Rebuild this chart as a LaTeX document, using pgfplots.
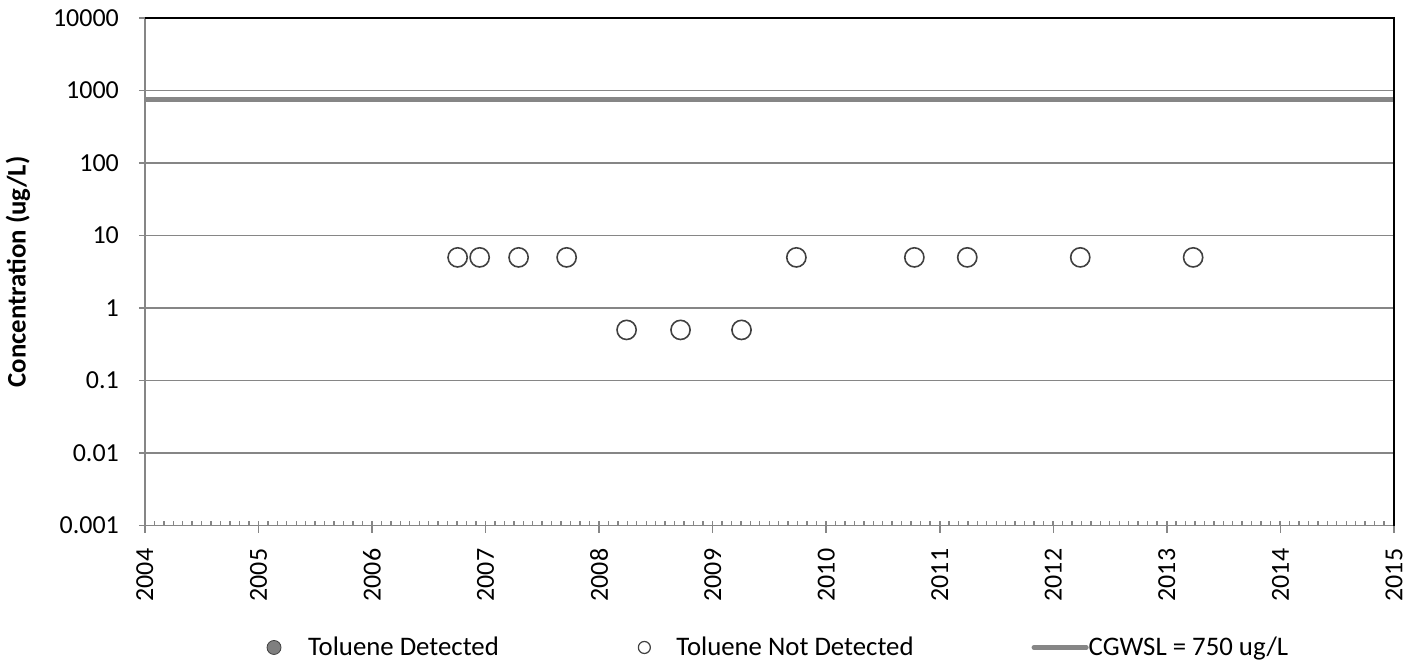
\documentclass[border=0pt]{standalone}
\usepackage{pgfplots}
\pgfplotsset{compat=1.18}
\usepackage{fontspec}
\setmainfont{Carlito}
\definecolor{axgray}{HTML}{868686}
\definecolor{mkedge}{HTML}{404040}
\definecolor{detfill}{HTML}{7F7F7F}
\begin{document}
\begin{tikzpicture}[font=\fontsize{13}{15}\selectfont]
\useasboundingbox (-72.5pt,-72pt) rectangle (637.5pt,263pt);
\begin{axis}[
  at={(0,0)}, anchor=south west,
  scale only axis, width=625pt, height=254pt,
  ymode=log, ymin=0.001, ymax=10000,
  xmin=2004, xmax=2015,
  xtick={2004,2005,...,2015},
  xminorticks=true,
  minor xtick={2004.0833333,2004.1666667,...,2015},
  ytick={0.001,0.01,0.1,1,10,100,1000,10000},
  yticklabels={0.001,0.01,0.1,1,10,100,1000,10000},
  yminorticks=false,
  /pgf/number format/1000 sep={},
  /pgf/number format/assume math mode=true,
  xticklabel style={rotate=90, anchor=east, font=\fontsize{13}{15}\selectfont},
  xticklabel shift=8pt,
  yticklabel style={font=\fontsize{13}{15}\selectfont},
  yticklabel shift=9.5pt,
  axis x line*=bottom, axis y line*=left,
  axis line style={axgray, line width=0.8pt, -},
  tick align=inside,
  major tick length=6pt, minor tick length=2.5pt,
  major x tick style={axgray, line width=0.8pt, yshift=-3.5pt},
  minor x tick style={axgray, line width=0.7pt},
  major y tick style={axgray, line width=0.8pt, xshift=-3pt},
  ymajorgrids, major y grid style={axgray, line width=0.8pt},
  ylabel={\textbf{Concentration (ug/L)}},
  ylabel style={at={(axis description cs:-0.1016,0.5)}, anchor=center, font=\fontsize{13.4}{15}\selectfont},
  legend columns=3,
  legend style={at={(axis description cs:0.5064,-0.24)}, anchor=center, draw=none, fill=none,
    font=\fontsize{13.4}{15}\selectfont,
    nodes={inner xsep=0pt, inner ysep=1pt},
    /tikz/column 2/.style={column sep=69.5pt},
    /tikz/column 4/.style={column sep=59pt}},
  clip=false,
]
\addlegendimage{legend image code/.code={%
   \path[draw=none, fill=none] (-3.5pt,-3.5pt) rectangle (17pt,3.5pt);
   \fill[detfill, draw=mkedge, line width=0.4pt] (0pt,0pt) circle (3.5pt);}}
\addlegendentry{Toluene Detected}
\addplot[only marks, mark=o, mark size=4.8pt, mark options={draw=mkedge, fill=white, line width=0.8pt},
  legend image code/.code={%
   \path[draw=none, fill=none] (-3pt,-3pt) rectangle (16pt,3pt);
   \draw[mkedge, fill=white, line width=0.6pt] (0pt,0pt) circle (3pt);}]
  coordinates {
  (2006.754,5) (2006.948,5) (2007.291,5) (2007.714,5)
  (2008.242,0.5) (2008.717,0.5) (2009.254,0.5)
  (2009.737,5) (2010.776,5) (2011.242,5) (2012.237,5) (2013.231,5)
  };
\addlegendentry{Toluene Not Detected}
\addplot[axgray, line width=2.5pt,
  legend image code/.code={\draw[axgray, line width=2.5pt, line cap=round] (1.2pt,0pt) -- (27.3pt,0pt); \path[draw=none, fill=none] (0pt,-1pt) rectangle (28.5pt,1pt);}]
  coordinates {(2004,750) (2015,750)};
\addlegendentry{CGWSL = 750 ug/L}
\draw[black, line width=0.8pt] (rel axis cs:0,1) -- (rel axis cs:1,1) -- (rel axis cs:1,0);
\end{axis}
\end{tikzpicture}
\end{document}
